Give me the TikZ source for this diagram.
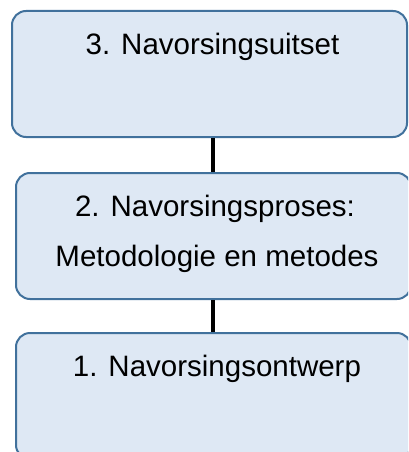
\documentclass[tikz,border=0pt]{standalone}
\usepackage{fontspec}
\setmainfont{Liberation Sans}
\definecolor{boxfill}{HTML}{DEE8F4}
\definecolor{boxline}{HTML}{41719C}
\begin{document}
\begin{tikzpicture}[x=1pt,y=-1pt,
  stagebox/.style={draw=boxline, fill=boxfill, line width=2pt, rounded corners=14pt,
    rectangle, minimum width=395pt, minimum height=126pt, inner sep=0pt},
  stagetext/.style={anchor=base, inner sep=0pt, font=\fontsize{29.5}{35}\selectfont},
  link/.style={line width=4pt, black}]
\useasboundingbox (0,0) rectangle (408,452);
\clip (0,0) rectangle (408,452);
\node[stagebox] (b3) at (209.5,74) {};
\node[stagebox] (b2) at (213.5,236) {};
\node[stagebox] (b1) at (213.5,396) {};
\coordinate (cx) at (213,0);
\draw[link] (b3.south -| cx) -- (b2.north -| cx);
\draw[link] (b2.south -| cx) -- (b1.north -| cx);
\node[stagetext] (t3) at (212.5,55) {3. Navorsingsuitset};
\node[stagetext] (t2a) at (215,216) {2. Navorsingsproses:};
\node[stagetext] (t2b) at (217,266.5) {Metodologie en metodes};
\node[stagetext] (t1) at (217,376) {1. Navorsingsontwerp};
\end{tikzpicture}
\end{document}
